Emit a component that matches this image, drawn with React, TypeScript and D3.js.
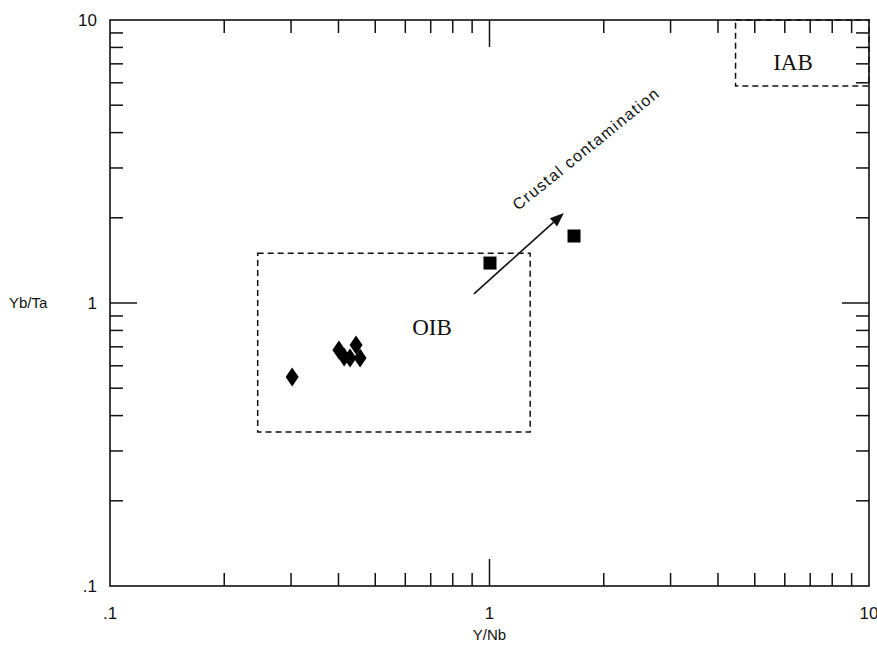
import React from "react";
import * as d3 from "d3";

// Sample ratios (Y/Nb, Yb/Ta)
const diamondX = [0.302, 0.401, 0.414, 0.429, 0.445, 0.456];
const diamondY = [0.548, 0.682, 0.644, 0.639, 0.711, 0.639];
const squareX = [1.003, 1.67];
const squareY = [1.384, 1.725];

// Field outlines
const oibField = { x: [0.245, 1.28], y: [0.35, 1.5], label: "OIB" };
const iabField = { x: [4.45, 10], y: [5.85, 10], label: "IAB" };

// Contamination trend
const arrowX = [0.91, 1.57];
const arrowY = [1.077, 2.08];

const majorTicks = [0.1, 1, 10];
const tickLabels = [".1", "1", "10"];

const W = 877;
const H = 648;
const left = 110;
const right = 869;
const top = 20;
const bottom = 586;

export default function App() {
  const x = d3.scaleLog().domain([0.1, 10]).range([left, right]);
  const y = d3.scaleLog().domain([0.1, 10]).range([bottom, top]);

  const minor: number[] = [];
  for (const dec of [0.1, 1]) {
    for (let k = 2; k <= 9; k++) minor.push(dec * k);
  }

  const minorLen = 13;
  const majorLen = 27;
  const stroke = "#111";
  const sans = "Liberation Sans, Arial, sans-serif";
  const serif = "Liberation Serif, Times New Roman, serif";

  const diamond = (cx: number, cy: number) =>
    `M${cx},${cy - 9.5}L${cx + 6.5},${cy}L${cx},${cy + 9.5}L${cx - 6.5},${cy}Z`;

  const ax0 = x(arrowX[0]);
  const ay0 = y(arrowY[0]);
  const ax1 = x(arrowX[1]);
  const ay1 = y(arrowY[1]);
  const ang = Math.atan2(ay1 - ay0, ax1 - ax0);
  const headLen = 14;
  const headW = 5.5;
  const hx = ax1 - headLen * Math.cos(ang);
  const hy = ay1 - headLen * Math.sin(ang);
  const px = -Math.sin(ang) * headW;
  const py = Math.cos(ang) * headW;

  return (
    <svg width={W} height={H} style={{ position: "absolute", left: 0, top: 0, background: "#fff" }}>
      <rect x={0} y={0} width={W} height={H} fill="#fff" />
      {/* minor ticks on all four sides */}
      {minor.map((v) => (
        <g key={"m" + v} stroke={stroke} strokeWidth={1.5}>
          <line x1={x(v)} x2={x(v)} y1={bottom} y2={bottom - minorLen} />
          <line x1={x(v)} x2={x(v)} y1={top} y2={top + minorLen} />
          <line y1={y(v)} y2={y(v)} x1={left} x2={left + minorLen} />
          <line y1={y(v)} y2={y(v)} x1={right} x2={right - minorLen} />
        </g>
      ))}
      {/* major ticks */}
      <g stroke={stroke} strokeWidth={1.5}>
        <line x1={x(1)} x2={x(1)} y1={bottom} y2={bottom - majorLen} />
        <line x1={x(1)} x2={x(1)} y1={top} y2={top + majorLen} />
        <line y1={y(1)} y2={y(1)} x1={left} x2={left + majorLen} />
        <line y1={y(1)} y2={y(1)} x1={right} x2={right - majorLen} />
      </g>
      {/* fields */}
      <rect
        x={x(oibField.x[0])}
        y={y(oibField.y[1])}
        width={x(oibField.x[1]) - x(oibField.x[0])}
        height={y(oibField.y[0]) - y(oibField.y[1])}
        fill="none"
        stroke={stroke}
        strokeWidth={1.5}
        strokeDasharray="6,4"
      />
      <rect
        x={x(iabField.x[0])}
        y={y(iabField.y[1])}
        width={x(iabField.x[1]) - x(iabField.x[0])}
        height={y(iabField.y[0]) - y(iabField.y[1])}
        fill="none"
        stroke={stroke}
        strokeWidth={1.5}
        strokeDasharray="6,4"
      />
      <text x={432} y={335} fontFamily={serif} fontSize={23} textAnchor="middle" fill="#111">
        {oibField.label}
      </text>
      <text x={793} y={70} fontFamily={serif} fontSize={23} textAnchor="middle" fill="#111">
        {iabField.label}
      </text>
      {/* frame */}
      <rect x={left} y={top} width={right - left} height={bottom - top} fill="none" stroke={stroke} strokeWidth={1.6} />
      {/* arrow */}
      <line x1={ax0} y1={ay0} x2={hx} y2={hy} stroke={stroke} strokeWidth={1.6} />
      <path d={`M${ax1},${ay1}L${hx + px},${hy + py}L${hx - px},${hy - py}Z`} fill={stroke} />
      <text
        transform={`translate(518,211) rotate(-39)`}
        fontFamily={sans}
        fontSize={16}
        letterSpacing={1.4}
        fill="#111"
      >
        Crustal contamination
      </text>
      {/* samples */}
      {diamondX.map((v, i) => (
        <path key={"d" + i} d={diamond(x(v), y(diamondY[i]))} fill="#000" />
      ))}
      {squareX.map((v, i) => (
        <rect key={"s" + i} x={x(v) - 6.5} y={y(squareY[i]) - 6.5} width={13} height={13} fill="#000" />
      ))}
      {/* tick labels */}
      {majorTicks.map((v, i) => (
        <g key={"t" + v} fontFamily={sans} fontSize={17} fill="#111">
          <text x={x(v)} y={619} textAnchor="middle">
            {tickLabels[i]}
          </text>
          <text x={97} y={y(v) + 6} textAnchor="end">
            {tickLabels[i]}
          </text>
        </g>
      ))}
      <text x={x(1)} y={640} textAnchor="middle" fontFamily={sans} fontSize={15} fill="#111">
        Y/Nb
      </text>
      <text x={9} y={y(1) + 5} fontFamily={sans} fontSize={15} fill="#111">
        Yb/Ta
      </text>
    </svg>
  );
}
